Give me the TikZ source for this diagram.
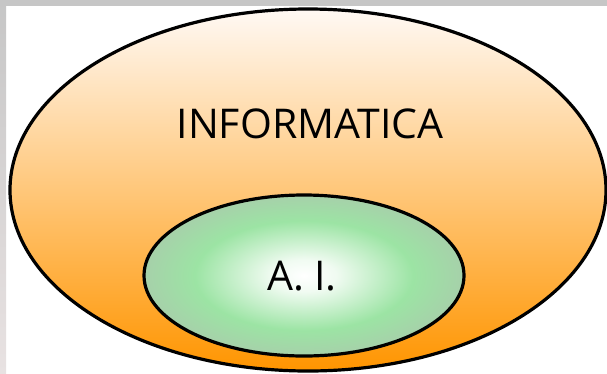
\documentclass[tikz,border=0pt]{standalone}
\usepackage{fontspec}
\setmainfont{Open Sans}
\definecolor{frame}{HTML}{C6C6C6}
\definecolor{framelow}{HTML}{E8E2E2}
\definecolor{inftop}{HTML}{FFF9F4}
\definecolor{infmid}{HTML}{FFD3A8}
\definecolor{infbot}{HTML}{FF9500}
\definecolor{aigreen}{HTML}{9CE4A4}
\definecolor{aiedge}{HTML}{AEC2AE}
\pgfdeclareradialshading{aishade}{\pgfpoint{0bp}{0bp}}{color(0bp)=(white); color(5bp)=(white!85!aigreen); color(17bp)=(aigreen); color(31bp)=(aiedge); color(50bp)=(aiedge)}
\tikzset{
  outline/.style={draw=black, line width=3.2pt},
  label/.style={font=\fontsize{41}{41}\selectfont, text=black, inner sep=0pt, text depth=0pt},
}
\begin{document}
\begin{tikzpicture}[x=1pt, y=-1pt]
\useasboundingbox (0,0) rectangle (607,373);
\clip (0,0) rectangle (607,373);
\fill[white] (0,0) rectangle (607,373);
\fill[frame] (0,0) rectangle (607,5.5);
\shade[top color=frame, bottom color=framelow] (0,0) rectangle (6,373);
\coordinate (infc) at (308,190);
\coordinate (aic) at (304,275.5);
\shade[outline, top color=inftop, middle color=infmid, bottom color=infbot] (infc) ellipse [x radius=298, y radius=181];
\shade[outline, shading=aishade] (aic) ellipse [x radius=160, y radius=80.5];
\node[label] (inf) at (310,123.5) {INFORMATICA};
\node[label] (ai) at (302,276) {A. I.};
\end{tikzpicture}
\end{document}
